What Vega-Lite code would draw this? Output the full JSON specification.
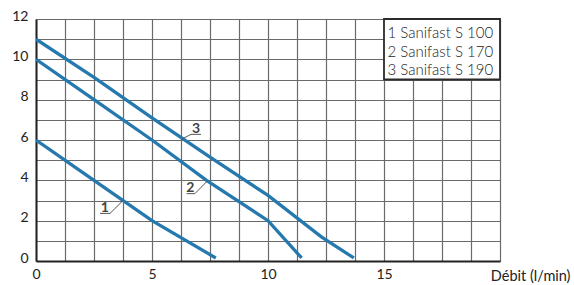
{
  "$schema": "https://vega.github.io/schema/vega-lite/v6.json",
  "width": 464,
  "height": 242,
  "autosize": {"type": "none"},
  "padding": {"left": 36, "top": 19, "right": 74, "bottom": 24},
  "background": "white",
  "config": {"view": {"stroke": null}, "font": "Lato"},
  "datasets": {
    "curves": [
      {"series": "1", "x": 0, "y": 6},
      {"series": "1", "x": 2.5, "y": 4},
      {"series": "1", "x": 5, "y": 2},
      {"series": "1", "x": 7.75, "y": 0.15},
      {"series": "2", "x": 0, "y": 10},
      {"series": "2", "x": 2.5, "y": 8},
      {"series": "2", "x": 5, "y": 6},
      {"series": "2", "x": 7.35, "y": 4},
      {"series": "2", "x": 10, "y": 2},
      {"series": "2", "x": 11.45, "y": 0.15},
      {"series": "3", "x": 0, "y": 11},
      {"series": "3", "x": 2.5, "y": 9.1},
      {"series": "3", "x": 5, "y": 7.1},
      {"series": "3", "x": 7.5, "y": 5.15},
      {"series": "3", "x": 10, "y": 3.25},
      {"series": "3", "x": 12.3, "y": 1.2},
      {"series": "3", "x": 13.7, "y": 0.15}
    ],
    "leaders": [
      {"id": "1", "o": 1, "x": 2.76, "y": 2.36},
      {"id": "1", "o": 2, "x": 3.19, "y": 2.36},
      {"id": "1", "o": 3, "x": 3.75, "y": 3.0},
      {"id": "2", "o": 1, "x": 6.49, "y": 3.34},
      {"id": "2", "o": 2, "x": 6.85, "y": 3.34},
      {"id": "2", "o": 3, "x": 7.37, "y": 3.95},
      {"id": "3", "o": 1, "x": 7.11, "y": 6.28},
      {"id": "3", "o": 2, "x": 6.68, "y": 6.28},
      {"id": "3", "o": 3, "x": 6.3, "y": 6.05}
    ],
    "labels": [
      {"label": "1", "x": 2.97, "y": 2.62},
      {"label": "2", "x": 6.65, "y": 3.6},
      {"label": "3", "x": 6.9, "y": 6.55}
    ],
    "box": [{"x": 15, "x2": 20, "y": 9, "y2": 12}],
    "legend": [
      {"text": "1  Sanifast S 100", "x": 15.15, "y": 11.3},
      {"text": "2  Sanifast S 170", "x": 15.15, "y": 10.38},
      {"text": "3  Sanifast S 190", "x": 15.15, "y": 9.47}
    ]
  },
  "layer": [
    {
      "data": {"name": "curves"},
      "mark": {"type": "line", "color": "#2579ae", "strokeWidth": 3.3, "clip": true},
      "encoding": {
        "x": {
          "field": "x", "type": "quantitative",
          "scale": {"domain": [0, 20], "nice": false},
          "axis": {
            "values": [0, 1.25, 2.5, 3.75, 5, 6.25, 7.5, 8.75, 10, 11.25, 12.5, 13.75, 15, 16.25, 17.5, 18.75, 20],
            "tickCount": 60,
            "format": "d",
            "labelExpr": "datum.value % 5 === 0 && datum.value < 20 ? datum.label : ''",
            "ticks": false,
            "grid": true,
            "gridColor": "#6a6a6a",
            "gridWidth": 1.2,
            "gridOpacity": 1,
            "encode": {
              "grid": {
                "update": {
                  "stroke": {"signal": "datum.value % 2.5 === 0 ? '#2b2b2b' : '#707070'"},
                  "strokeWidth": {"signal": "datum.value % 2.5 === 0 ? 1.8 : 1.2"}
                }
              }
            },
            "domainColor": "#222",
            "domainWidth": 2,
            "labelFontSize": 14,
            "labelColor": "#222",
            "labelPadding": 6,
            "labelFlush": false,
            "labelOverlap": false,
            "title": "Débit (l/min)",
            "titleFontSize": 14.5,
            "titleFontWeight": "normal",
            "titleColor": "#222",
            "titleX": 534,
            "titleY": 15,
            "titleAlign": "right",
            "titleAnchor": null,
            "titleBaseline": "middle"
          }
        },
        "y": {
          "field": "y", "type": "quantitative",
          "scale": {"domain": [0, 12], "nice": false},
          "axis": {
            "values": [0, 1, 2, 3, 4, 5, 6, 7, 8, 9, 10, 11, 12],
            "tickCount": 60,
            "format": "d",
            "labelExpr": "datum.value % 2 === 0 ? datum.label : ''",
            "ticks": false,
            "grid": true,
            "gridColor": "#6a6a6a",
            "gridWidth": 1.2,
            "gridOpacity": 1,
            "encode": {
              "grid": {
                "update": {
                  "stroke": {"signal": "datum.value % 2 === 0 ? '#2b2b2b' : '#707070'"},
                  "strokeWidth": {"signal": "datum.value % 2 === 0 ? 1.8 : 1.2"}
                }
              }
            },
            "domainColor": "#222",
            "domainWidth": 2,
            "labelFontSize": 14,
            "labelColor": "#222",
            "labelPadding": 8,
            "labelOffset": -3,
            "labelOverlap": false,
            "title": null
          }
        },
        "detail": {"field": "series"}
      }
    },
    {
      "data": {"name": "box"},
      "mark": {"type": "rect", "fill": "white", "stroke": "#2b2b2b", "strokeWidth": 1.8},
      "encoding": {
        "x": {"field": "x", "type": "quantitative"},
        "x2": {"field": "x2"},
        "y": {"field": "y", "type": "quantitative"},
        "y2": {"field": "y2"}
      }
    },
    {
      "data": {"name": "legend"},
      "mark": {"type": "text", "align": "left", "baseline": "middle", "fontSize": 15, "fontWeight": 300, "color": "#222", "font": "Lato"},
      "encoding": {
        "x": {"field": "x", "type": "quantitative"},
        "y": {"field": "y", "type": "quantitative"},
        "text": {"field": "text"}
      }
    },
    {
      "data": {"name": "leaders"},
      "mark": {"type": "line", "color": "#555", "strokeWidth": 1},
      "encoding": {
        "x": {"field": "x", "type": "quantitative"},
        "y": {"field": "y", "type": "quantitative"},
        "detail": {"field": "id"},
        "order": {"field": "o"}
      }
    },
    {
      "data": {"name": "labels"},
      "mark": {"type": "text", "align": "center", "baseline": "middle", "fontSize": 14, "fontWeight": "bold", "color": "#444"},
      "encoding": {
        "x": {"field": "x", "type": "quantitative"},
        "y": {"field": "y", "type": "quantitative"},
        "text": {"field": "label"}
      }
    }
  ]
}
